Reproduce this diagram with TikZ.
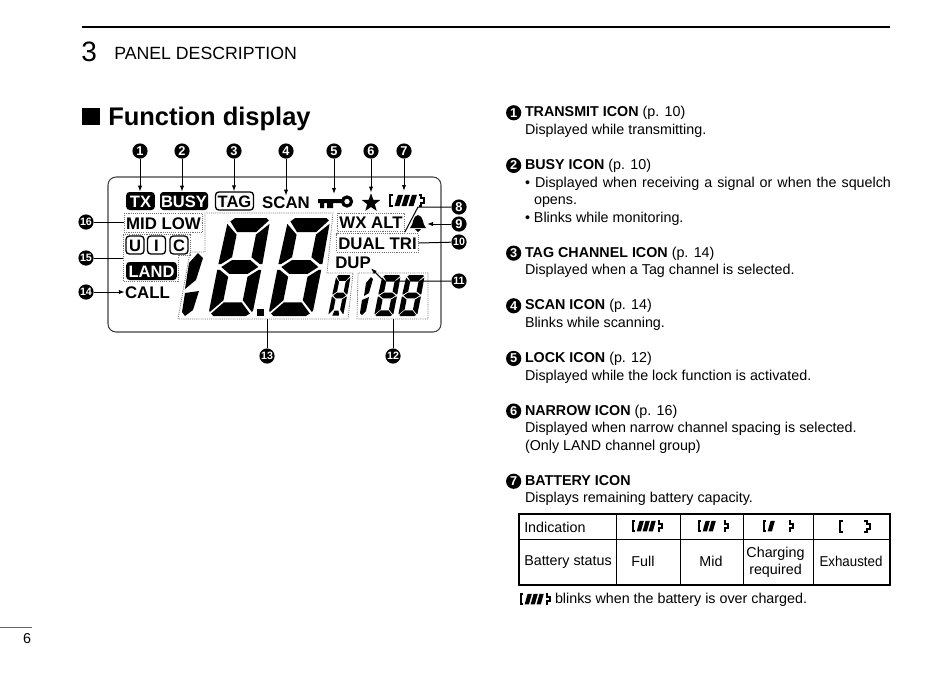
\documentclass[tikz,border=0pt]{standalone}
\usepackage{fontspec}
\setmainfont{Liberation Sans}
\usetikzlibrary{arrows.meta,positioning,calc,shapes.geometric}

\newcommand{\dsegtop}{\fill (.08,1.93) -- (.17,2) -- (.88,2) -- (.95,1.95) -- (.71,1.71) -- (.28,1.71) -- cycle;}
\newcommand{\dsegul}{\fill (.02,1.88) -- (.28,1.66) -- (.28,1.2) -- (.06,1.06) -- (0,1.06) -- cycle;}
\newcommand{\dsegur}{\fill (.98,1.88) -- (.72,1.66) -- (.72,1.2) -- (.94,1.06) -- (1,1.06) -- cycle;}
\newcommand{\dsegmid}{\fill (.08,1) -- (.29,1.14) -- (.71,1.14) -- (.92,1) -- (.71,.86) -- (.29,.86) -- cycle;}
\newcommand{\dsegll}{\fill (0,.94) -- (.06,.94) -- (.28,.8) -- (.28,.32) -- (.02,.08) -- (0,.12) -- cycle;}
\newcommand{\dseglr}{\fill (1,.94) -- (.94,.94) -- (.72,.8) -- (.72,.32) -- (.98,.08) -- (1,.12) -- cycle;}
\newcommand{\dsegbot}{\fill (.06,.05) -- (.3,.28) -- (.7,.28) -- (.94,.05) -- (.86,0) -- (.12,0) -- cycle;}
\newcommand{\dsegfoot}{\fill (.28,.02) -- (.36,.26) -- (.64,.26) -- (.72,.02) -- cycle;}
\newcommand{\segdigit}[3]{%
  \begin{scope}[shift={#1},xslant=.2,xscale=#2,yscale=-#3]
    \dsegtop \dsegul \dsegur \dsegmid \dsegll \dseglr \dsegbot
  \end{scope}}

\begin{document}
\begin{tikzpicture}[
  x=.75pt,y=-.75pt,
  >=Latex,
  numdot/.style={circle, fill=black, text=white, inner sep=0pt, minimum size=11.4pt, font=\bfseries\fontsize{9.6}{9.6}\selectfont},
  numdotb/.style={numdot, font=\bfseries\fontsize{8}{8}\selectfont},
  lcdtext/.style={inner sep=0pt, text height=9pt, text depth=0pt, font=\bfseries\fontsize{12.6}{12.6}\selectfont},
  badge/.style={lcdtext, fill=black, text=white, rounded corners=2.5pt, minimum height=13.5pt, font=\bfseries\fontsize{12.4}{12.4}\selectfont},
  ringbox/.style={lcdtext, draw, line width=1pt, rounded corners=2.5pt, minimum height=13.5pt, font=\bfseries\fontsize{12.4}{12.4}\selectfont},
  dotbox/.style={lcdtext, draw=black!55, dash pattern=on .8pt off .8pt, line width=.6pt, inner xsep=1.2pt, minimum height=14pt},
  dotline/.style={draw=black!55, dash pattern=on .8pt off .8pt, line width=.6pt},
  lead/.style={line width=.75pt},
  arrow/.style={->, line width=.75pt, >={Latex[length=4.5pt,width=3.2pt]}},
  tline/.style={anchor=north west, inner sep=0pt, outer sep=0pt, text height=9.7pt, text depth=3.46pt, font=\fontsize{10.73}{13}\selectfont},
  nextline/.style={tline, below=0pt of #1.south west, anchor=north west},
  nextitem/.style={tline, below=13.16pt of #1.south west, anchor=north west},
  cell/.style={align=center, inner sep=0pt, font=\fontsize{10.73}{13}\selectfont},
  pics/battery/.style={code={
    \draw[line width=1.5pt] (4,1) -- (1,1) -- (1,15) -- (4,15);
    \foreach \i in {1,...,#1}
      \fill ({7*\i-1.5},15) -- ({7*\i+3.5},15) -- ({7*\i+7},1) -- ({7*\i+2},1) -- cycle;
    \draw[line width=1.2pt] (30,1) -- (32,1) -- (32,5) -- (35,5) -- (35,11) -- (32,11) -- (32,15) -- (30,15);
  }}
]
\useasboundingbox (0,0) rectangle (950,672);

\draw[line width=1.5pt] (82,27) -- (890,27);
\node[anchor=base west, inner sep=0pt, font=\fontsize{21}{21}\selectfont] (chapter) at (81,61) {3};
\node[anchor=base west, inner sep=0pt, font=\fontsize{13.28}{13.28}\selectfont] (section) at (114,59) {PANEL DESCRIPTION};
\fill (82,108) rectangle (100,125);
\node[anchor=base west, inner sep=0pt, font=\bfseries\fontsize{19.1}{19.1}\selectfont] (heading) at (108,125) {Function display};
\draw[black!60, line width=.5pt] (0,627) -- (32,627);
\node[anchor=base, inner sep=0pt, font=\fontsize{10.73}{13}\selectfont] (pageno) at (27,643) {6};

\draw[black!75, line width=.8pt, rounded corners=6pt] (108,177) rectangle (441,332);

\node[badge, minimum width=21.5pt] (tx) at (140.5,201) {TX};
\node[badge, minimum width=36pt] (busy) at (184,201) {BUSY};
\node[ringbox, minimum width=28.5pt] (tag) at (234.5,201) {TAG};
\node[lcdtext] (scan) at (286,202) {SCAN};
\fill (318,199) rectangle (342,203) (320,203) rectangle (324,208) (327,203) rectangle (333,208);
\draw[line width=2.4pt] (347,201.5) circle (4.5);
\coordinate (keyicon) at (334,194);
\node[star, star points=5, star point ratio=2.4, fill=black, inner sep=0pt, minimum size=14.5pt] (narrow) at (371,203) {};
\pic[yscale=.8] at (389,194) {battery=3};
\coordinate (batt) at (404,191);

\node[dotbox, minimum width=59pt] (midlow) at (163.5,223) {MID LOW};
\node[ringbox, minimum width=13.5pt] (uu) at (135,245) {U};
\node[ringbox, minimum width=13.5pt] (ii) at (156.5,245) {I};
\node[ringbox, minimum width=13.5pt] (cc) at (179,245) {C};
\node[badge, minimum width=38pt] (land) at (151.5,271) {LAND};
\draw[dotline] (123,234) -- (190,234) -- (190,255) -- (178,255) -- (178,281) -- (123,281) -- cycle;
\coordinate (uic) at (123,258);
\node[lcdtext] (call) at (147.5,292) {CALL};

\draw[dotline] (178,319) -- (190,252) -- (205,252) -- (205,213) -- (333,213) -- (327,273) -- (353,273) -- (348,319) -- cycle;
\coordinate (mainfreq) at (267,319);
\fill (198,253) -- (203,258) -- (196,280) -- (185,289) -- (189,263) -- cycle;
\fill (199,291) -- (193,310) -- (185,316) -- (182,312) -- (185,293) -- cycle;
\segdigit{(208,316)}{44}{49}
\segdigit{(268,316)}{44}{49}
\fill (257,309) rectangle (264,316);
\begin{scope}[shift={(328,316)},xslant=.2,xscale=15,yscale=-20.5]
  \dsegtop \dsegul \dsegur \dsegmid \dsegll \dseglr \dsegfoot
\end{scope}

\draw[dotline] (357,319) -- (358,273) -- (428,273) -- (428,319) -- cycle;
\coordinate (subfreq) at (393,319);
\fill (371,277) -- (373,279) -- (369,293) -- (364,296) -- (366,283) -- cycle;
\fill (369,297) -- (366,311) -- (362,315) -- (360,313) -- (362,300) -- cycle;
\segdigit{(374,316)}{19}{20.5}
\segdigit{(398,316)}{19}{20.5}

\node[dotbox, minimum width=50pt] (wxalt) at (371,222.5) {WX ALT};
\fill (418,215) .. controls (412,216) and (414,224) .. (410,228) -- (426,228) .. controls (422,224) and (424,216) .. (418,215) -- cycle;
\fill (415,229) -- (421,229) -- (418,232) -- cycle;
\coordinate (bell) at (427,224);
\node[dotbox, minimum width=60pt] (dualtri) at (377.5,243) {DUAL TRI};
\node[lcdtext] (dup) at (353,262) {DUP};

\foreach \n/\x in {1/140,2/182,3/234,4/286,5/334,6/371,7/404}
  \node[numdot] (top\n) at (\x,151) {\n};
\node[numdot] (side8) at (459,207) {8};
\node[numdot] (side9) at (459,224) {9};
\node[numdotb] (side10) at (459,242) {10};
\node[numdotb] (side11) at (459,281) {11};
\node[numdotb] (low12) at (393,356) {12};
\node[numdotb] (low13) at (267,356) {13};
\node[numdotb] (left14) at (86,292) {14};
\node[numdotb] (left15) at (86,258) {15};
\node[numdotb] (left16) at (86,222) {16};

\draw[arrow] (top1) -- (top1 |- tx.north);
\draw[arrow] (top2) -- (top2 |- busy.north);
\draw[arrow] (top3) -- (top3 |- tag.north);
\draw[arrow] (top4) -- (top4 |- scan.north);
\draw[arrow] (top5) -- (keyicon);
\draw[arrow] (top6) -- (top6 |- narrow.north);
\draw[arrow] (top7) -- (batt);
\draw[lead] (side8) -- (418,207) -- (wxalt.south east);
\draw[arrow] (side9) -- (bell);
\draw[lead] (side10) -- (dualtri.east);
\draw[arrow] (side11) -- (384,281) -- (dup.south east);
\draw[lead] (low12) -- (subfreq);
\draw[lead] (low13) -- (mainfreq);
\draw[arrow] (left14) -- (call.west);
\draw[lead] (left15) -- (uic);
\draw[lead] (left16) -- (midlow.west |- left16);

\node[tline] (head1) at (525,104) {\textbf{TRANSMIT ICON} (p. 10)};
\node[nextline=head1] (body1) {Displayed while transmitting.};
\node[nextitem=body1] (head2) {\textbf{BUSY ICON} (p. 10)};
\node[nextline=head2] (body2a) {\makebox[274.5pt][s]{\textbullet\ Displayed when receiving a signal or when the squelch}};
\node[nextline=body2a, xshift=6.8pt] (body2b) {opens.};
\node[nextline=body2a, yshift=-13.16pt] (body2c) {\textbullet\ Blinks while monitoring.};
\node[nextitem=body2c] (head3) {\textbf{TAG CHANNEL ICON} (p. 14)};
\node[nextline=head3] (body3) {Displayed when a Tag channel is selected.};
\node[nextitem=body3] (head4) {\textbf{SCAN ICON} (p. 14)};
\node[nextline=head4] (body4) {Blinks while scanning.};
\node[nextitem=body4] (head5) {\textbf{LOCK ICON} (p. 12)};
\node[nextline=head5] (body5) {Displayed while the lock function is activated.};
\node[nextitem=body5] (head6) {\textbf{NARROW ICON} (p. 16)};
\node[nextline=head6] (body6a) {Displayed when narrow channel spacing is selected.};
\node[nextline=body6a] (body6b) {(Only LAND channel group)};
\node[nextitem=body6b] (head7) {\textbf{BATTERY ICON}};
\node[nextline=head7] (body7) {Displays remaining battery capacity.};

\foreach \n in {1,...,7}
  \node[numdot, left=2.6pt of head\n] (item\n) {\n};

\draw[line width=1.2pt] (519,514) rectangle (890,585);
\draw[line width=.8pt] (519,539.5) -- (890,539.5);
\foreach \x in {616,680,743,813}
  \draw[line width=.5pt] (\x,514) -- (\x,585);
\node[cell, anchor=west] (indication) at (524,527) {Indication};
\node[cell, anchor=west] (status) at (524,562.5) {Battery status};
\node[cell] (full) at (643,561) {Full};
\node[cell] (mid) at (711,561) {Mid};
\node[cell] (charging) at (775.5,562) {Charging\\required};
\node[cell] (exhausted) at (851,561) {\scalebox{.93}[1]{Exhausted}};
\pic[xscale=.85,yscale=.75] at (632,520) {battery=3};
\pic[xscale=.85,yscale=.75] at (698,520) {battery=2};
\pic[xscale=.85,yscale=.75] at (763,520) {battery=1};
\draw[line width=1.2pt] (843,521) -- (840,521) -- (840,532) -- (843,532);
\draw[line width=1pt] (864,521) -- (867,521) -- (867,524) -- (870,524) -- (870,529) -- (867,529) -- (867,532) -- (864,532);
\pic[xscale=.85,yscale=.75] at (520,593) {battery=3};
\node[tline, anchor=west] (overcharge) at (555,599) {blinks when the battery is over charged.};
\end{tikzpicture}
\end{document}
